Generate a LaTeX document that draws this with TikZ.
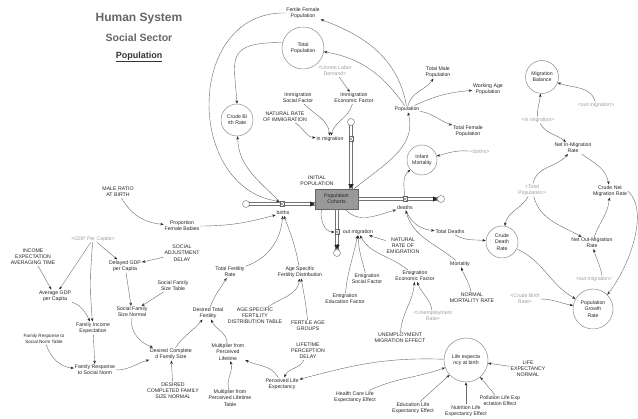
\documentclass[tikz,border=0pt]{standalone}
\usepackage{fontspec}
\setmainfont{Liberation Sans}
\usetikzlibrary{arrows.meta,calc}
\begin{document}
\begin{tikzpicture}[x=1pt,y=1pt,
  lab/.style={font=\fontsize{5.2}{6.2}\selectfont, text=black!85, align=center, inner sep=0.8pt},
  shad/.style={lab, text=black!38},
  circ/.style={lab, circle, draw=black!45, line width=0.5pt, minimum size=#1, inner sep=0pt},
  conn/.style={draw=black!58, line width=0.4pt, -{Stealth[length=3.4pt,width=2.6pt,color=black!85]}},
  pipeline/.style={draw=black!55, line width=0.55pt},
  pipetip/.style={draw=black!85, line width=0.3pt, -{Triangle[length=4.5pt,width=5pt,color=black!85]}},
  valve/.style={draw=black!60, fill=white, line width=0.4pt, minimum size=4.6pt, inner sep=0pt,
    path picture={\draw[black!60,line width=0.35pt] (path picture bounding box.north west) -- (path picture bounding box.south east) (path picture bounding box.north east) -- (path picture bounding box.south west);}},
  cloudy/.style={circle, draw=black!55, fill=white, line width=0.45pt, minimum size=7pt, inner sep=0pt},
]
\fill[white] (0,0) rectangle (638,-419);
\useasboundingbox (0,0) rectangle (638,-419);

% titles
\node[font=\fontsize{12}{14}\selectfont\bfseries, text=black!60] (t1) at (139,-19) {Human System};
\node[font=\fontsize{10.5}{12}\selectfont\bfseries, text=black!60] (t2) at (139,-38) {Social Sector};
\node[font=\fontsize{9}{11}\selectfont\bfseries, text=black!80] (t3) at (139,-57) {\underline{Population}};

% top area
\node[lab] (ffp) at (303,-13) {Fertile Female\\Population};
\node[circ=42pt] (tp) at (303,-48) {Total\\Population};
\node[shad] (uld) at (335,-71) {<Unmet Labor\\Demand>};
\node[lab] (isf) at (298,-98) {Immigration\\Social Factor};
\node[lab] (ief) at (354,-98) {Immigration\\Economic Factor};
\node[lab] (nri) at (285,-117) {NATURAL RATE\\OF IMMIGRATION};
\node[circ=32pt] (cbr) at (237,-120) {Crude Bi\\rth Rate};
\node[lab] (pop) at (407,-109) {Population};
\node[lab] (tmp) at (438,-72) {Total Male\\Population};
\node[lab] (wap) at (488,-89) {Working Age\\Population};
\node[lab] (tfp) at (468,-131) {Total Female\\Population};

% migration side
\node[circ=33pt] (mb) at (542,-77) {Migration\\Balance};
\node[shad] (om1) at (596,-105) {<out migration>};
\node[shad] (im1) at (538,-120) {<in migration>};
\node[lab] (nimr) at (573,-148) {Net In-Migration\\Rate};
\node[lab] (cnmr) at (610,-191) {Crude Net\\Migration Rate};
\node[shad] (tp2) at (532,-190) {<Total\\Population>};
\node[lab] (nomr) at (592,-243) {Net Out-Migration\\Rate};
\node[shad] (om2) at (594,-279) {<out migration>};
\node[circ=32pt] (cdr) at (502,-242) {Crude\\Death\\Rate};
\node[circ=40pt] (pgr) at (593,-309) {Population\\Growth\\Rate};
\node[shad] (cbr2) at (525,-299) {<Crude Birth\\Rate>};
\node[circ=30pt] (im) at (422,-160) {Infant\\Mortality};
\node[shad] (bir2) at (480,-152) {<births>};

% stock and flows
\node[lab] (ip) at (317,-181) {INITIAL\\POPULATION};
\node[lab, draw=black!60, fill=black!40, minimum width=43pt, minimum height=20pt, inner sep=0pt, line width=0.5pt] (box) at (336.5,-199) {Population\\Cohorts};
\coordinate (cbp) at (246,-204);
\coordinate (cdp) at (441,-199);
\coordinate (cinp) at (351,-122);
\coordinate (cop) at (337,-253);

% pipes (double lines)
\draw[pipeline] ($(cbp)+(0,1.3)$) -- ($(cbp -| box.west)+(0,1.3)$);
\draw[pipeline] ($(cbp)+(0,-1.3)$) -- ($(cbp -| box.west)+(0,-1.3)$);
\draw[pipeline] ($(box.east)+(0,1.3)$) -- ($(cdp)+(0,1.3)$);
\draw[pipeline] ($(box.east)+(0,-1.3)$) -- ($(cdp)+(0,-1.3)$);
\draw[pipeline] ($(cinp)+(1.3,0)$) -- ($(cinp |- box.north)+(1.3,0)$);
\draw[pipeline] ($(cinp)+(-1.3,0)$) -- ($(cinp |- box.north)+(-1.3,0)$);
\draw[pipeline] ($(cop |- box.south)+(1.3,0)$) -- ($(cop)+(1.3,0)$);
\draw[pipeline] ($(cop |- box.south)+(-1.3,0)$) -- ($(cop)+(-1.3,0)$);
\draw[pipetip] ($(cbp -| box.west)+(-5,0)$) -- (cbp -| box.west);
\draw[pipetip] ($(cdp)+(-8.5,0)$) -- ($(cdp)+(-3.5,0)$);
\draw[pipetip] ($(cinp |- box.north)+(0,5)$) -- (cinp |- box.north);
\draw[pipetip] ($(cop)+(0,8.5)$) -- ($(cop)+(0,3.5)$);

\node[cloudy] (cb) at (cbp) {};
\node[cloudy] (cd) at (cdp) {};
\node[cloudy] (cin) at (cinp) {};
\node[cloudy] (co) at (cop) {};
\node[valve] (vb) at (282,-204) {};
\node[valve] (vd) at (405,-199) {};
\node[valve] (vin) at (351,-139) {};
\node[valve] (vo) at (337,-232) {};
\node[lab] (bl) at (283,-213) {births};
\node[lab] (dl) at (405,-207.5) {deaths};
\node[lab] (inl) at (330,-139) {in migration};
\node[lab] (oml) at (358,-232) {out migration};

% emigration and mortality
\node[lab] (nre) at (403,-246) {NATURAL\\RATE OF\\EMIGRATION};
\node[lab] (esf) at (367,-279) {Emigration\\Social Factor};
\node[lab] (edf) at (345,-299) {Emigration\\Education Factor};
\node[lab] (eecon) at (415,-276) {Emigration\\Economic Factor};
\node[shad] (ur) at (433,-316) {<Unemployment\\Rate>};
\node[lab] (ume) at (400,-338) {UNEMPLOYMENT\\MIGRATION EFFECT};
\node[lab] (mort) at (460,-264) {Mortality};
\node[lab] (nmr) at (472,-298) {NORMAL\\MORTALITY RATE};
\node[lab] (td) at (450,-232) {Total Deaths};

% left side
\node[lab] (mrb) at (118,-192) {MALE RATIO\\AT BIRTH};
\node[lab] (pfb) at (182,-226) {Proportion\\Female Babies};
\node[shad] (gdp) at (93,-239) {<GDP Per Capita>};
\node[lab] (ieat) at (33,-257) {INCOME\\EXPECTATION\\AVERAGING TIME};
\node[lab] (dgdp) at (125,-266) {Delayed GDP\\per Capita};
\node[lab] (sad) at (182,-253) {SOCIAL\\ADJUSTMENT\\DELAY};
\node[lab] (agdp) at (55,-296) {Average GDP\\per Capita};
\node[lab] (fie) at (93,-328) {Family Income\\Expectation};
\node[lab, font=\fontsize{4.6}{5.6}\selectfont] (frt) at (44,-339) {Family Response to\\Social Norm Table};
\node[lab] (frsn) at (95,-370) {Family Response\\to Social Norm};
\node[lab] (sfst) at (173,-286) {Social Family\\Size Table};
\node[lab] (sfsn) at (132,-312) {Social Family\\Size Normal};
\node[lab] (dcfs) at (171,-354) {Desired Complete\\d Family Size};
\node[lab] (dcfsn) at (173,-391) {DESIRED\\COMPLETED FAMILY\\SIZE NORMAL};
\node[lab] (dtf) at (208,-313) {Desired Total\\Fertility};
\node[lab] (tfr) at (230,-272) {Total Fertility\\Rate};
\node[lab] (asfd) at (300,-272) {Age Specific\\Fertility Distribution};
\node[lab] (asfdt) at (255,-316) {AGE SPECIFIC\\FERTILITY\\DISTRIBUTION TABLE};
\node[lab] (fag) at (308,-326) {FERTILE AGE\\GROUPS};
\node[lab] (mpl) at (228,-352) {Multiplier from\\Perceived\\Lifetime};
\node[lab] (mplt) at (230,-398) {Multiplier from\\Perceived Lifetime\\Table};
\node[lab] (lpd) at (308,-351) {LIFETIME\\PERCEPTION\\DELAY};
\node[lab] (ple) at (282,-384) {Perceived Life\\Expectancy};
\node[lab] (hc) at (355,-397) {Health Care Life\\Expectancy Effect};
\node[lab] (edu) at (413,-408) {Education Life\\Expectancy Effect};
\node[lab] (nut) at (466,-411) {Nutrition Life\\Expectancy Effect};
\node[lab] (pol) at (500,-401) {Pollution Life Exp\\ectation Effect};
\node[circ=44pt] (le) at (466,-360) {Life expecta\\ncy at birth};
\node[lab] (len) at (528,-369) {LIFE\\EXPECTANCY\\NORMAL};

% ---- connectors ----
\draw[conn] (pop) to[out=100,in=-20] (ffp);
\draw[conn] (pop) to[out=125,in=-10] (tp);
\draw[conn] (pop) to[out=75,in=-125] (tmp);
\draw[conn] (pop) to[out=25,in=185] (wap);
\draw[conn] (pop) to[out=-10,in=160] (tfp);
\draw[conn] ([xshift=-4pt]box.north east) to[out=40,in=-75] (pop);
\draw[conn] (tp.165) .. controls +(-58,0) and +(-3,45) .. (cbr.north);
\draw[conn] (ffp.west) .. controls +(-100,2) and +(-95,14) .. (vb.north west);
\draw[conn] (vb) to[out=135,in=-88] (cbr);

\draw[conn] (uld) -- (ief);
\draw[conn] (isf) to[out=-45,in=95] (inl);
\draw[conn] (ief) to[out=-105,in=75] (inl);
\draw[conn] (nri) to[out=-30,in=175] (inl);

\draw[conn] (om1) to[out=105,in=-20] (mb);
\draw[conn] (im1) to[out=95,in=-95] (mb);
\draw[conn] (im1) to[out=-60,in=140] (nimr);
\draw[conn] (tp2) to[out=80,in=-130] (nimr);
\draw[conn] (tp2) to[out=-120,in=80] (cdr);
\draw[conn] (tp2) to[out=-75,in=150] (nomr);
\draw[conn] (nimr) to[out=-35,in=100] (cnmr);
\draw[conn] (nomr) to[out=70,in=-95] (cnmr);
\draw[conn] ([xshift=8pt]om2.north) to[out=100,in=-75] (nomr);
\draw[conn] (cnmr.east) .. controls +(22,-20) and +(22,28) .. (pgr.45);
\draw[conn] (cdr) to[out=-25,in=150] (pgr);
\draw[conn] (cbr2) to[out=0,in=170] (pgr);

\draw[conn] (vd) to[out=95,in=-140] (im);
\draw[conn] (bir2) to[out=175,in=15] (im);
\draw[conn] ([xshift=9pt]box.south) to[out=-50,in=195] (dl);
\draw[conn] ([xshift=-15pt]box.south) to[out=-100,in=180] (vo);
\draw[conn] (dl) to[out=-70,in=175] (td);
\draw[conn] (td) to[out=-30,in=175] (cdr);
\draw[conn] (mort) to[out=140,in=-75] (dl);
\draw[conn] (nmr) to[out=100,in=-70] (mort);

\draw[conn] (nre) -- (oml);
\draw[conn] (esf) to[out=105,in=-88] (oml);
\draw[conn] (edf) to[out=85,in=-100] (oml);
\draw[conn] (eecon) to[out=140,in=-60] (oml);
\draw[conn] (ur) to[out=100,in=-70] (eecon);
\draw[conn] (ume) to[out=85,in=-95] (eecon);

\draw[conn] (mrb) to[out=-60,in=175] (pfb);
\draw[conn] (pfb) to[out=0,in=195] (bl);
\draw[conn] (tfr) to[out=20,in=-95] (bl);
\draw[conn] (asfd) to[out=100,in=-70] (bl);
\draw[conn] (dtf) to[out=70,in=-120] (tfr);
\draw[conn] (asfdt) to[out=35,in=-95] (asfd);
\draw[conn] (fag) to[out=95,in=-80] (asfd);
\draw[conn] (dcfs) to[out=55,in=-130] (dtf);
\draw[conn] (mpl) to[out=95,in=-65] (dtf);
\draw[conn] (ple) to[out=120,in=-25] (mpl);
\draw[conn] (mplt) to[out=100,in=-75] (mpl);
\draw[conn] (lpd) to[out=-115,in=70] (ple);
\draw[conn] (le) to[out=178,in=15] (ple);
\draw[conn] (hc) to[out=25,in=-160] (le);
\draw[conn] (edu) -- (le);
\draw[conn] (nut) -- (le);
\draw[conn] (pol) -- (le);
\draw[conn] (len) -- (le);

\draw[conn] (dcfsn) -- (dcfs);
\draw[conn] (frsn) to[out=0,in=-165] (dcfs);
\draw[conn] (sfsn) to[out=-95,in=160] (dcfs);
\draw[conn] (sfst) -- (sfsn);
\draw[conn] (dgdp) -- (sfsn);
\draw[conn] (sad) -- (dgdp);
\draw[conn] (gdp) -- (dgdp);
\draw[conn] (gdp) -- (agdp);
\draw[conn] (gdp) to[out=-95,in=95] (fie);
\draw[conn] (ieat) -- (agdp);
\draw[conn] (agdp) to[out=-20,in=115] (fie);
\draw[conn] (fie) -- (frsn);
\draw[conn] (frt) to[out=-70,in=175] (frsn);
\end{tikzpicture}
\end{document}
